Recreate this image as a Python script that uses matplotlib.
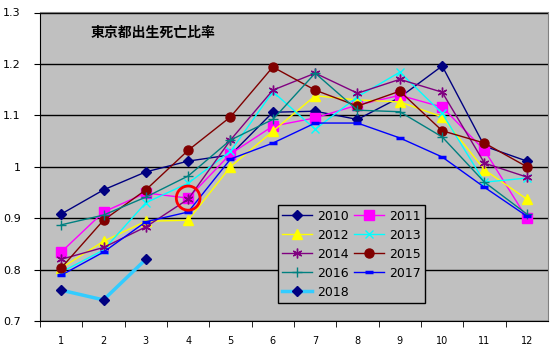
import matplotlib.pyplot as plt
from matplotlib.patches import Ellipse

plt.rcParams['font.family'] = ['Noto Sans CJK JP', 'DejaVu Sans']

months = [1, 2, 3, 4, 5, 6, 7, 8, 9, 10, 11, 12]

y2010 = [0.908, 0.955, 0.990, 1.011, 1.023, 1.106, 1.108, 1.092, 1.135, 1.196, 1.040, 1.011]
y2011 = [0.834, 0.912, 0.949, 0.939, 1.025, 1.079, 1.095, 1.120, 1.139, 1.116, 1.032, 0.900]
y2012 = [0.803, 0.855, 0.894, 0.896, 1.000, 1.069, 1.138, 1.130, 1.126, 1.097, 0.994, 0.937]
y2013 = [0.795, 0.838, 0.930, 0.968, 1.030, 1.146, 1.073, 1.136, 1.184, 1.104, 0.970, 0.978]
y2014 = [0.820, 0.843, 0.883, 0.937, 1.052, 1.149, 1.182, 1.143, 1.170, 1.145, 1.007, 0.980]
y2015 = [0.803, 0.896, 0.955, 1.032, 1.097, 1.194, 1.149, 1.118, 1.147, 1.070, 1.046, 1.000]
y2016 = [0.887, 0.906, 0.941, 0.982, 1.052, 1.092, 1.182, 1.110, 1.107, 1.058, 0.970, 0.908]
y2017 = [0.789, 0.834, 0.893, 0.912, 1.015, 1.046, 1.085, 1.085, 1.056, 1.019, 0.960, 0.904]
y2018 = [0.760, 0.741, 0.820]

fig = plt.figure(figsize=(5.54, 3.52), dpi=100)
ax = fig.add_axes([40 / 554, 31 / 352, 508 / 554, 308.5 / 352])
ax.set_facecolor('#C0C0C0')

ms = 6
lines = {}
lines['2010'], = ax.plot(months, y2010, color='#000080', lw=1, marker='D', ms=ms - 1, label='2010')
lines['2011'], = ax.plot(months, y2011, color='#FF00FF', lw=1, marker='s', ms=ms + 0.5, label='2011')
lines['2012'], = ax.plot(months, y2012, color='#FFFF00', lw=1, marker='^', ms=ms + 0.5, label='2012')
lines['2013'], = ax.plot(months, y2013, color='#00FFFF', lw=1, marker='x', ms=ms, mew=1, label='2013')
lines['2014'], = ax.plot(months, y2014, color='#800080', lw=1, marker=(6, 2, 0), ms=ms + 1, mew=1, label='2014')
lines['2015'], = ax.plot(months, y2015, color='#800000', lw=1, marker='o', ms=ms + 0.5, label='2015')
lines['2016'], = ax.plot(months, y2016, color='#008080', lw=1, marker='+', ms=ms + 1, mew=1, label='2016')
lines['2017'], = ax.plot(months, y2017, color='#0000FF', lw=1, marker='_', ms=ms, mew=2.5, label='2017')
lines['2018'], = ax.plot(months[:3], y2018, color='#33CCFF', lw=2.5, marker='D', ms=ms - 1,
                         mfc='#000080', mec='#000080', label='2018')

# red circle highlight on April 2011
ax.add_patch(Ellipse((4, y2011[3]), 0.56, 0.047, fill=False, ec='#FF0000', lw=2, zorder=5))

ax.set_xlim(0.5, 12.5)
ax.set_ylim(0.7, 1.3)
ax.set_xticks(months)
ax.set_xticklabels([str(m) for m in months], fontsize=7, family='DejaVu Sans')
ax.set_xticks([m + 0.5 for m in range(12)], minor=True)
ax.tick_params(axis='x', which='major', length=0, pad=11)
ax.tick_params(axis='x', which='minor', length=4, direction='out')
ax.set_yticks([0.7, 0.8, 0.9, 1.0, 1.1, 1.2, 1.3])
ax.set_yticklabels(['0.7', '0.8', '0.9', '1', '1.1', '1.2', '1.3'], fontsize=8, family='DejaVu Sans')
ax.tick_params(axis='y', length=4, direction='out', pad=10)
ax.grid(axis='y', color='black', lw=1)
ax.set_axisbelow(True)
for s in ['top', 'right']:
    ax.spines[s].set_color('#808080')
for s in ['left', 'bottom']:
    ax.spines[s].set_color('black')

ax.text(0.1, 0.935, '東京都出生死亡比率', transform=ax.transAxes, fontsize=10,
        fontweight='bold', va='center', ha='left')

# row-major legend order: 2010 2011 / 2012 2013 / ...
order = ['2010', '2012', '2014', '2016', '2018', '2011', '2013', '2015', '2017']
leg = ax.legend([lines[k] for k in order], order, ncol=2, loc='lower left',
                bbox_to_anchor=(0.4685, 0.058), borderaxespad=0,
                fontsize=9, frameon=True, fancybox=False, edgecolor='black',
                facecolor='#C0C0C0', framealpha=1, handlelength=2.4,
                columnspacing=0.4, labelspacing=0.48, borderpad=0.35, handletextpad=0.4)
leg.get_frame().set_linewidth(1)
for t in leg.get_texts():
    t.set_family('DejaVu Sans')

fig.savefig('out.png', dpi=100)
